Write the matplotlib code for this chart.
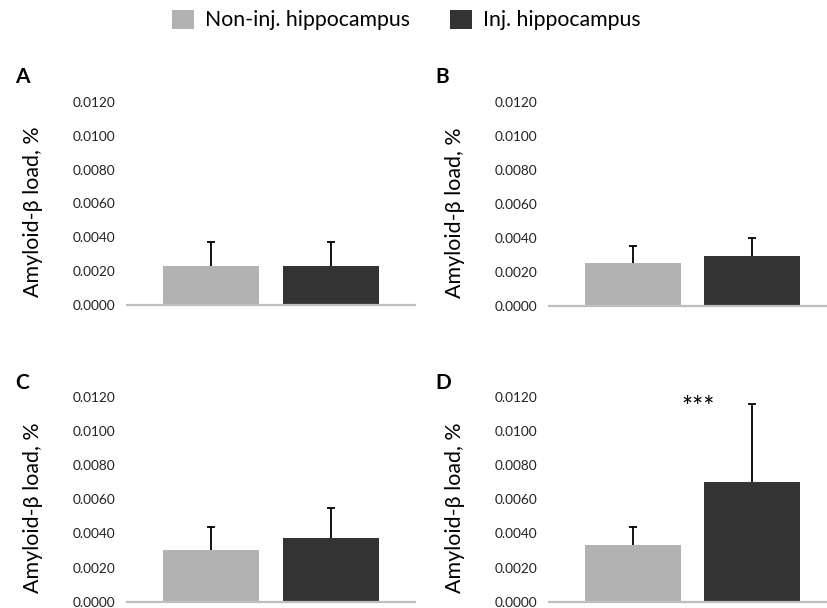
import matplotlib
matplotlib.use("Agg")
import matplotlib.pyplot as plt
import numpy as np

# data (Amyloid-beta load, %)
groups = ['Non-inj. hippocampus', 'Inj. hippocampus']
panels = ['A', 'B', 'C', 'D']
means = {
    'A': [0.0023, 0.0023],
    'B': [0.0025, 0.0029],
    'C': [0.0030, 0.0037],
    'D': [0.0033, 0.0070],
}
errs = {
    'A': [0.0014, 0.0014],
    'B': [0.0010, 0.0011],
    'C': [0.0014, 0.0018],
    'D': [0.0011, 0.0046],
}
yticks = [0.0, 0.002, 0.004, 0.006, 0.008, 0.010, 0.012]

colors = ['#b2b2b2', '#333333']

plt.rcParams['font.family'] = ['Lato', 'DejaVu Sans']

W, H = 827, 608
fig = plt.figure(figsize=(W / 100, H / 100), dpi=100)

# axes boxes in pixels: left, right, bottom, top
boxes = {
    'A': (127, 415, 305, 102),
    'B': (549, 836, 305.7, 101.7),
    'C': (127, 415, 601.7, 396.7),
    'D': (549, 836, 601.7, 396.7),
}
letter_pos = {'A': (15, 77), 'B': (435, 77), 'C': (15, 383), 'D': (435, 383)}

bars_for_legend = None
x = np.arange(len(groups))
for p in panels:
    l, r, b, t = boxes[p]
    ax = fig.add_axes([l / W, 1 - b / H, (r - l) / W, (b - t) / H])
    bars = ax.bar(x, means[p], width=0.8, color=colors)
    if bars_for_legend is None:
        bars_for_legend = bars
    # upper error bars only, no cap at the bar top
    eb = ax.errorbar(x, means[p], yerr=[[0, 0], errs[p]], fmt='none',
                     ecolor='black', elinewidth=1.3, capsize=2.6,
                     capthick=1.3)
    eb[1][0].set_visible(False)
    ax.set_xlim(-0.7, 1.7)
    ax.set_ylim(0, 0.012)
    ax.set_yticks(yticks)
    ax.set_yticklabels(['%.4f' % v for v in yticks])
    ax.set_xticks([])
    for s in ['top', 'right', 'left']:
        ax.spines[s].set_visible(False)
    ax.spines['bottom'].set_color('#bfbfbf')
    ax.spines['bottom'].set_linewidth(1.6)
    ax.tick_params(axis='y', length=0, pad=8.6, labelsize=9.8,
                   labelcolor='#222222')
    ax.set_ylabel('Amyloid-β load, %', fontsize=15.4)
    ax.yaxis.set_label_coords(-0.292, 0.458)
    lx, ly = letter_pos[p]
    fig.text(lx / W, 1 - ly / H, p, fontsize=15, fontweight='bold',
             ha='left', va='center')
    if p == 'D':
        ax.text(0.55, 0.0113, '***', ha='center', va='center', fontsize=19)

fig.legend(bars_for_legend, groups, loc='center',
           bbox_to_anchor=(406.5 / W, 1 - 20 / H), ncol=2, frameon=False,
           fontsize=15.3, handlelength=1.03, handleheight=1.0,
           handletextpad=0.52, columnspacing=1.9)

fig.savefig('out.png', dpi=100)
